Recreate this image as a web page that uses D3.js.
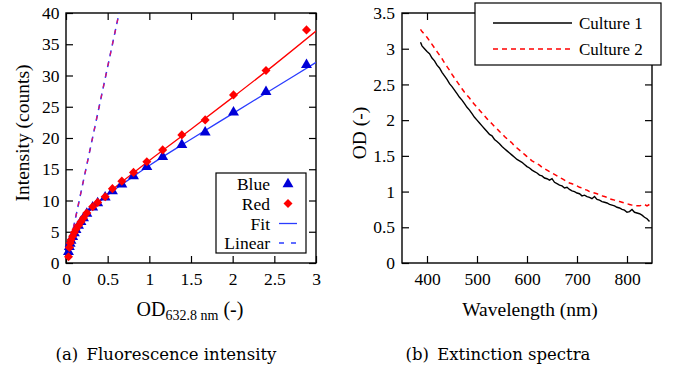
<!DOCTYPE html>
<html>
<head>
<meta charset="utf-8">
<script src="https://cdn.jsdelivr.net/npm/d3@7"></script>
<style>
  body { margin: 0; background: #fff; }
  svg { display: block; }
</style>
</head>
<body>
<div id="chart"></div>
<script>
// (a) fluorescence intensity vs OD632.8
var odBlue  = [0.03, 0.04, 0.05, 0.06, 0.08, 0.10, 0.12, 0.15, 0.18, 0.21, 0.25, 0.32, 0.38, 0.47, 0.557, 0.67, 0.81, 0.97, 1.16, 1.39, 1.67, 2.01, 2.40, 2.886];
var intBlue = [1.8, 2.6, 3.1, 3.6, 4.2, 4.8, 5.3, 6.0, 6.6, 7.2, 7.9, 8.9, 9.6, 10.5, 11.5, 12.6, 13.9, 15.4, 17.0, 18.9, 20.9, 24.1, 27.4, 31.7];
var odRed   = [0.03, 0.04, 0.05, 0.06, 0.08, 0.10, 0.12, 0.15, 0.18, 0.21, 0.25, 0.32, 0.38, 0.47, 0.557, 0.67, 0.81, 0.97, 1.16, 1.39, 1.67, 2.01, 2.40, 2.886];
var intRed  = [1.0, 2.5, 3.2, 3.7, 4.3, 4.9, 5.4, 6.0, 6.6, 7.2, 8.0, 9.0, 9.7, 10.6, 11.9, 13.1, 14.5, 16.2, 18.1, 20.5, 22.9, 26.9, 30.8, 37.3];

var fitOd      = [0.02, 0.05, 0.1, 0.15, 0.2, 0.3, 0.4, 0.5, 0.75, 1, 1.5, 2, 2.5, 3];
var fitBlueInt = [2.2, 3.6, 5.0, 6.1, 7.1, 8.6, 9.8, 10.9, 13.3, 15.6, 19.8, 23.9, 28.0, 32.1];
var fitRedInt  = [2.2, 3.6, 5.0, 6.1, 7.1, 8.6, 9.9, 11.1, 13.8, 16.4, 21.4, 26.5, 31.7, 37.1];

var linearOd  = [0.06, 0.637];
var linearInt = [3.8, 40];

var odTicks  = [0, 0.5, 1, 1.5, 2, 2.5, 3];
var intTicks = [0, 5, 10, 15, 20, 25, 30, 35, 40];

// (b) extinction spectra
var wavelength = [387, 390, 395, 400, 405, 410, 415, 420, 425, 430, 435, 440, 445, 450, 455, 460, 465, 470, 475, 480,
  485, 490, 495, 500, 505, 510, 515, 520, 525, 530, 535, 540, 545, 550, 555, 560, 565, 570, 575, 580,
  585, 590, 595, 600, 605, 610, 615, 620, 625, 630, 635, 640, 645, 650, 655, 660, 665, 670, 675, 680,
  685, 690, 695, 700, 705, 710, 715, 720, 725, 730, 735, 740, 745, 750, 755, 760, 765, 770, 775, 780,
  785, 790, 795, 800, 805, 810, 815, 820, 825, 830, 835, 840, 845];
var culture1 = [3.09, 3.04, 3.00, 2.96, 2.93, 2.87, 2.83, 2.77, 2.73, 2.67, 2.62, 2.57, 2.51, 2.47, 2.42, 2.37, 2.32, 2.28, 2.23, 2.18,
  2.14, 2.09, 2.04, 2.00, 1.96, 1.92, 1.88, 1.84, 1.80, 1.78, 1.73, 1.70, 1.67, 1.63, 1.60, 1.57, 1.54, 1.51, 1.48, 1.45,
  1.43, 1.41, 1.38, 1.35, 1.33, 1.30, 1.28, 1.26, 1.23, 1.22, 1.19, 1.18, 1.16, 1.18, 1.13, 1.11, 1.09, 1.08, 1.05, 1.06,
  1.03, 1.01, 1.00, 0.98, 0.97, 0.94, 0.95, 0.93, 0.92, 0.90, 0.93, 0.89, 0.88, 0.86, 0.85, 0.84, 0.82, 0.81, 0.80, 0.78,
  0.77, 0.75, 0.74, 0.71, 0.72, 0.75, 0.71, 0.70, 0.69, 0.67, 0.64, 0.62, 0.58];
var culture2 = [3.27, 3.24, 3.20, 3.16, 3.11, 3.06, 3.01, 2.96, 2.91, 2.86, 2.80, 2.75, 2.70, 2.64, 2.59, 2.54, 2.49, 2.44, 2.39, 2.35,
  2.31, 2.26, 2.22, 2.18, 2.14, 2.10, 2.06, 2.02, 1.98, 1.95, 1.91, 1.88, 1.84, 1.81, 1.77, 1.74, 1.71, 1.68, 1.64, 1.61,
  1.58, 1.55, 1.52, 1.49, 1.46, 1.43, 1.41, 1.39, 1.37, 1.34, 1.32, 1.30, 1.28, 1.26, 1.24, 1.22, 1.20, 1.18, 1.16, 1.14,
  1.12, 1.11, 1.09, 1.08, 1.06, 1.05, 1.03, 1.02, 1.00, 0.99, 0.98, 0.97, 0.95, 0.94, 0.93, 0.92, 0.90, 0.89, 0.88, 0.87,
  0.86, 0.85, 0.84, 0.83, 0.82, 0.81, 0.80, 0.80, 0.80, 0.81, 0.82, 0.80, 0.82];

var wlTicks = [400, 500, 600, 700, 800];
var odSpecTicks = [0, 0.5, 1, 1.5, 2, 2.5, 3, 3.5];

var blue = "#0000d8", blueLine = "#2a3cff", red = "#ff0000";
var serif = "Liberation Serif";

var svg = d3.select("#chart").append("svg")
  .attr("width", 676)
  .attr("height", 370);

svg.append("rect").attr("width", 676).attr("height", 370).attr("fill", "#fff");

// frame with inward ticks on all four sides
function frame(g, x, y, xt, yt, pad) {
  var w = x.range()[1] - x.range()[0], h = y.range()[0] - y.range()[1];
  g.append("g").attr("transform", "translate(0," + h + ")")
    .call(d3.axisBottom(x).tickValues(xt).tickSizeInner(-7).tickSizeOuter(0).tickPadding(10).tickFormat(d3.format("")));
  g.append("g")
    .call(d3.axisTop(x).tickValues(xt).tickSizeInner(-7).tickSizeOuter(0).tickFormat(""));
  g.append("g")
    .call(d3.axisLeft(y).tickValues(yt).tickSizeInner(-7).tickSizeOuter(0).tickPadding(pad).tickFormat(d3.format("")));
  g.append("g").attr("transform", "translate(" + w + ",0)")
    .call(d3.axisRight(y).tickValues(yt).tickSizeInner(-7).tickSizeOuter(0).tickFormat(""));
  g.selectAll(".domain").remove();
  g.selectAll(".tick line").attr("stroke", "#000").attr("stroke-width", 1.2);
  g.selectAll(".tick text")
    .attr("font-family", serif).attr("font-size", 17.5).attr("fill", "#000")
    .style("font-family", serif).style("font-size", "17.5px");
  g.append("rect").attr("width", w).attr("height", h)
    .attr("fill", "none").attr("stroke", "#000").attr("stroke-width", 1.4);
}

// ---------- panel (a) ----------
var ga = svg.append("g").attr("transform", "translate(66,13)");
var xa = d3.scaleLinear().domain([0, 3]).range([0, 250]);
var ya = d3.scaleLinear().domain([0, 40]).range([250, 0]);

svg.append("defs").append("clipPath").attr("id", "clipA")
  .append("rect").attr("width", 250).attr("height", 250);

frame(ga, xa, ya, odTicks, intTicks, 6.5);

var plotA = ga.append("g").attr("clip-path", "url(#clipA)");
var lineA = d3.line().x(d => xa(d[0])).y(d => ya(d[1]));

var linPts = d3.zip(linearOd, linearInt);
plotA.append("path").datum(linPts).attr("d", lineA)
  .attr("fill", "none").attr("stroke", blueLine).attr("stroke-width", 1.5).attr("stroke-dasharray", "6,5");
plotA.append("path").datum(linPts).attr("d", lineA)
  .attr("fill", "none").attr("stroke", "#e0106a").attr("stroke-width", 1.3).attr("stroke-dasharray", "4,7").attr("stroke-dashoffset", -1);

plotA.append("path").datum(d3.zip(fitOd, fitBlueInt)).attr("d", lineA.curve(d3.curveMonotoneX))
  .attr("fill", "none").attr("stroke", blueLine).attr("stroke-width", 1.3);
plotA.append("path").datum(d3.zip(fitOd, fitRedInt)).attr("d", lineA.curve(d3.curveMonotoneX))
  .attr("fill", "none").attr("stroke", red).attr("stroke-width", 1.3);

var tri = d3.symbol().type(d3.symbolTriangle).size(52);
var dia = d3.symbol().type(d3.symbolDiamond2).size(52);

ga.selectAll(".blue").data(d3.zip(odBlue, intBlue)).enter().append("path")
  .attr("d", tri).attr("fill", blue)
  .attr("transform", d => "translate(" + xa(d[0]) + "," + ya(d[1]) + ")");
ga.selectAll(".red").data(d3.zip(odRed, intRed)).enter().append("path")
  .attr("d", dia).attr("fill", red)
  .attr("transform", d => "translate(" + xa(d[0]) + "," + ya(d[1]) + ")");

// legend (a)
var la = svg.append("g");
la.append("rect").attr("x", 216).attr("y", 173).attr("width", 90).attr("height", 80)
  .attr("fill", "#fff").attr("stroke", "#000").attr("stroke-width", 1.2);
var legA = ["Blue", "Red", "Fit", "Linear"];
var legAy = [184, 203.5, 223.5, 243];
la.selectAll("text").data(legA).enter().append("text")
  .attr("x", 270).attr("y", (d, i) => legAy[i] + 6)
  .attr("text-anchor", "end")
  .style("font-family", serif).style("font-size", "17.5px")
  .text(d => d);
la.append("path").attr("d", tri).attr("fill", blue).attr("transform", "translate(288," + legAy[0] + ")");
la.append("path").attr("d", dia).attr("fill", red).attr("transform", "translate(288," + legAy[1] + ")");
la.append("line").attr("x1", 279).attr("x2", 297).attr("y1", legAy[2]).attr("y2", legAy[2])
  .attr("stroke", blueLine).attr("stroke-width", 1.3);
la.append("line").attr("x1", 279).attr("x2", 297).attr("y1", legAy[3]).attr("y2", legAy[3])
  .attr("stroke", blueLine).attr("stroke-width", 1.3).attr("stroke-dasharray", "5,7");

// axis titles (a)
svg.append("text")
  .attr("transform", "translate(29,133) rotate(-90)")
  .attr("text-anchor", "middle")
  .style("font-family", serif).style("font-size", "19.5px")
  .text("Intensity (counts)");

var xt = svg.append("text")
  .attr("x", 190).attr("y", 316)
  .attr("text-anchor", "middle")
  .style("font-family", serif).style("font-size", "20px");
xt.append("tspan").text("OD");
xt.append("tspan").attr("dy", 4).style("font-size", "14px").text("632.8 nm");
xt.append("tspan").attr("dy", -4).text(" (-)");

// ---------- panel (b) ----------
var gb = svg.append("g").attr("transform", "translate(402,13)");
var xb = d3.scaleLinear().domain([350, 850]).range([0, 250]);
var yb = d3.scaleLinear().domain([0, 3.5]).range([250, 0]);

frame(gb, xb, yb, wlTicks, odSpecTicks, 7);

var lineB = d3.line().x(d => xb(d[0])).y(d => yb(d[1]));
gb.append("path").datum(d3.zip(wavelength, culture2)).attr("d", lineB)
  .attr("fill", "none").attr("stroke", red).attr("stroke-width", 1.5).attr("stroke-dasharray", "5,4");
gb.append("path").datum(d3.zip(wavelength, culture1)).attr("d", lineB)
  .attr("fill", "none").attr("stroke", "#000").attr("stroke-width", 1.4);

// legend (b)
var lb = svg.append("g");
lb.append("rect").attr("x", 475).attr("y", 3).attr("width", 186).attr("height", 62)
  .attr("fill", "#fff").attr("stroke", "#000").attr("stroke-width", 1.2);
var legB = ["Culture 1", "Culture 2"];
var legBy = [23, 49];
lb.append("line").attr("x1", 493).attr("x2", 572).attr("y1", legBy[0]).attr("y2", legBy[0])
  .attr("stroke", "#000").attr("stroke-width", 1.4);
lb.append("line").attr("x1", 493).attr("x2", 572).attr("y1", legBy[1]).attr("y2", legBy[1])
  .attr("stroke", red).attr("stroke-width", 1.5).attr("stroke-dasharray", "5,4");
lb.selectAll("text").data(legB).enter().append("text")
  .attr("x", 579).attr("y", (d, i) => legBy[i] + 6)
  .style("font-family", serif).style("font-size", "17px")
  .text(d => d);

svg.append("text")
  .attr("transform", "translate(366,133) rotate(-90)")
  .attr("text-anchor", "middle")
  .style("font-family", serif).style("font-size", "19.5px")
  .text("OD (-)");

svg.append("text")
  .attr("x", 530).attr("y", 316)
  .attr("text-anchor", "middle")
  .style("font-family", serif).style("font-size", "19.5px")
  .text("Wavelength (nm)");

// captions
var capFont = "DejaVu Serif";
svg.append("text").attr("x", 166).attr("y", 360).attr("text-anchor", "middle")
  .style("font-family", capFont).style("font-size", "16.5px")
  .text("(a)\u2002Fluorescence intensity");
svg.append("text").attr("x", 498).attr("y", 360).attr("text-anchor", "middle")
  .style("font-family", capFont).style("font-size", "16.5px")
  .text("(b)\u2002Extinction spectra");
</script>
</body>
</html>
